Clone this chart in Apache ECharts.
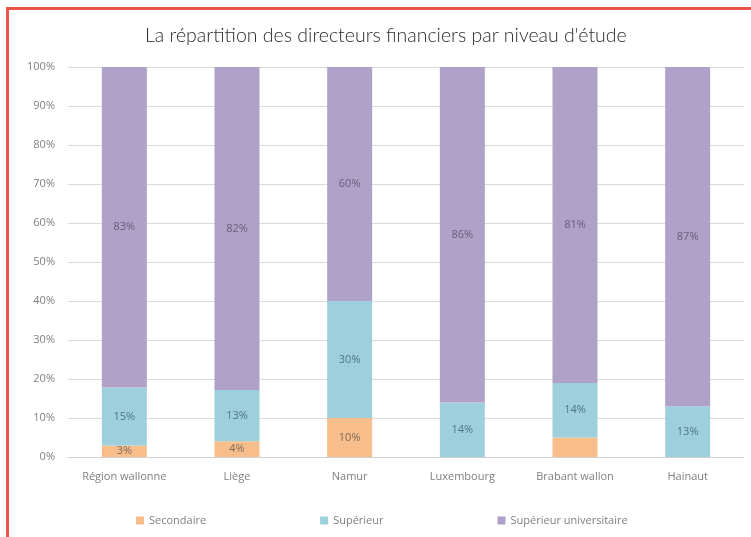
<!DOCTYPE html>
<html>
<head>
<meta charset="utf-8">
<script src="https://cdn.jsdelivr.net/npm/echarts@6/dist/echarts.min.js"></script>
<style>
html,body{margin:0;padding:0;background:#fff;}
#wrap{position:relative;width:751px;height:537px;overflow:hidden;background:#fff;}
#frame{position:absolute;left:6px;top:7px;width:760px;height:540px;border-left:3px solid #EA5645;border-top:3px solid #EA5645;box-sizing:border-box;}
#chart{position:absolute;left:0;top:0;width:751px;height:537px;}
</style>
</head>
<body>
<div id="wrap"><div id="frame"></div><div id="chart"></div></div>
<script>
const categories = ["Région wallonne", "Liège", "Namur", "Luxembourg", "Brabant wallon", "Hainaut"];
const secondaire = [3, 4, 10, 0, 5, 0];
const superieur = [15, 13, 30, 14, 14, 13];
const universitaire = [83, 82, 60, 86, 81, 87];
const hiddenLabels = [[4, 0]]; // [category index, series index] whose label is not shown in the reference
const seriesNames = ["Secondaire", "Supérieur", "Supérieur universitaire"];
const yTicks = [0, 10, 20, 30, 40, 50, 60, 70, 80, 90, 100];

const raw = [secondaire, superieur, universitaire];
const totals = categories.map((c, i) => raw.reduce((s, arr) => s + arr[i], 0));
const colors = ["#F7BE8C", "#9DCFDC", "#AFA1C7"];
const labelColors = ["#7d6a5a", "#4f7684", "#675d78"];

const chart = echarts.init(document.getElementById('chart'), null, {renderer: 'canvas'});
const series = raw.map((arr, si) => ({
  name: seriesNames[si],
  type: 'bar',
  stack: 'total',
  barWidth: 45,
  itemStyle: {color: colors[si]},
  label: {
    show: true,
    position: 'inside',
    color: labelColors[si],
    fontFamily: 'Open Sans',
    fontSize: 11,
    formatter: p => {
      const v = arr[p.dataIndex];
      if (!v) return '';
      if (hiddenLabels.some(h => h[0] === p.dataIndex && h[1] === si)) return '';
      return v + '%';
    }
  },
  data: arr.map((v, i) => v / totals[i] * 100)
}));

chart.setOption({
  animation: false,
  backgroundColor: 'transparent',
  title: {
    text: "La répartition des directeurs financiers par niveau d'étude",
    left: 140,
    top: 21,
    textStyle: {fontFamily: 'Lato', fontWeight: 300, fontSize: 19.5, color: '#2b2b2b'}
  },
  legend: {
    data: seriesNames,
    bottom: 6,
    left: 131,
    itemWidth: 8,
    itemHeight: 8,
    itemGap: 114,
    icon: 'rect',
    textStyle: {fontFamily: 'Open Sans', fontSize: 11, color: '#7f7f7f'}
  },
  grid: {left: 68, right: 7, top: 67, bottom: 80, containLabel: false},
  xAxis: {
    type: 'category',
    data: categories,
    axisTick: {show: false},
    axisLine: {lineStyle: {color: '#d0d0d0', width: 1}},
    axisLabel: {fontFamily: 'Open Sans', fontSize: 11, color: '#7f7f7f', margin: 14, interval: 0}
  },
  yAxis: {
    type: 'value',
    min: 0, max: 100, interval: 10,
    axisLabel: {formatter: v => yTicks.includes(v) ? v + '%' : '', fontFamily: 'Open Sans', fontSize: 11, color: '#7f7f7f', margin: 13},
    splitLine: {lineStyle: {color: '#dadada', width: 1}},
    axisLine: {show: false},
    axisTick: {show: false}
  },
  series: series
});
</script>
</body>
</html>
